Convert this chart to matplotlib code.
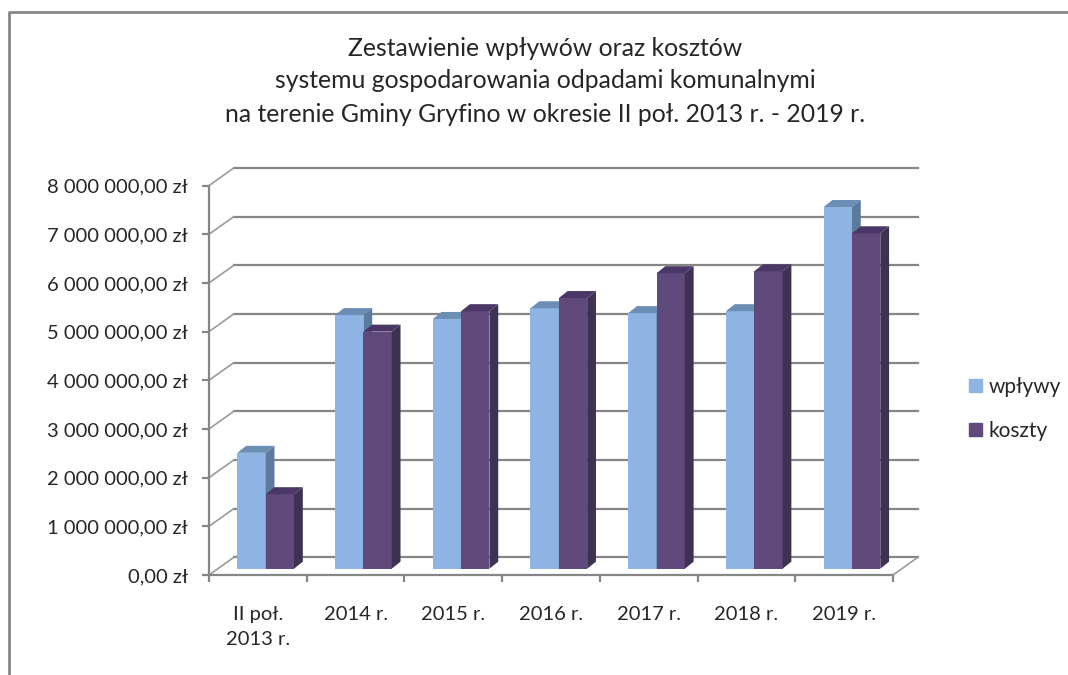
import matplotlib
matplotlib.use("Agg")
import matplotlib.pyplot as plt
from matplotlib.patches import Polygon, Patch
from matplotlib.lines import Line2D
import numpy as np

categories = ["II poł.\n2013 r.", "2014 r.", "2015 r.", "2016 r.", "2017 r.", "2018 r.", "2019 r."]
wplywy = [2380000, 5210000, 5130000, 5350000, 5250000, 5290000, 7430000]
koszty = [1530000, 4870000, 5290000, 5560000, 6070000, 6110000, 6890000]
y_ticks = [0, 1000000, 2000000, 3000000, 4000000, 5000000, 6000000, 7000000, 8000000]
y_labels = ["0,00 zł", "1 000 000,00 zł", "2 000 000,00 zł", "3 000 000,00 zł", "4 000 000,00 zł",
            "5 000 000,00 zł", "6 000 000,00 zł", "7 000 000,00 zł", "8 000 000,00 zł"]
title_lines = ["Zestawienie wpływów oraz kosztów",
               "systemu gospodarowania odpadami komunalnymi",
               "na terenie Gminy Gryfino w okresie II poł. 2013 r. - 2019 r."]

GRAY = "#868686"
TEXT = "#262626"
W, H = 1068, 675
plt.rcParams["font.family"] = ["Lato", "DejaVu Sans"]

fig = plt.figure(figsize=(W / 100, H / 100), dpi=100)
# axes box = front plane of the 3D chart
left, right, top, bottom = 209, 893, 185.6, 575
ax = fig.add_axes([left / W, 1 - bottom / H, (right - left) / W, (bottom - top) / H])
ax.set_xlim(0, 7)
ax.set_ylim(0, 8000000)
ax.patch.set_alpha(0)

# depth offsets, in data units
back_dx = 0.2526
back_dy = 361000
bar_w = 0.29
bar_x0 = 0.29
bar_dx = 0.09
bar_dy = 144000
base_dy = 130000

# walls: gridlines and their diagonals
for v in y_ticks:
    ax.plot([back_dx, 7 + back_dx], [v + back_dy, v + back_dy], color=GRAY, lw=1.6,
            clip_on=False, zorder=1)
    ax.plot([0, back_dx], [v, v + back_dy], color="#9a9a9a", lw=1.2, clip_on=False, zorder=1)
ax.plot([7, 7 + back_dx], [0, back_dy], color="#9a9a9a", lw=1.2, clip_on=False, zorder=1)


def draw_series(values, offset, front, top_c, side, z):
    x = np.arange(len(values)) + bar_x0 + offset
    ax.bar(x, values, bar_w, bottom=base_dy, align="edge", color=front, clip_on=False, zorder=z)
    for xi, v in zip(x, values):
        t = base_dy + v
        ax.add_patch(Polygon([(xi, t), (xi + bar_w, t), (xi + bar_w + bar_dx, t + bar_dy), (xi + bar_dx, t + bar_dy)],
                             closed=True, color=top_c, lw=0, clip_on=False, zorder=z))
        ax.add_patch(Polygon([(xi + bar_w, base_dy), (xi + bar_w + bar_dx, base_dy + bar_dy),
                              (xi + bar_w + bar_dx, t + bar_dy), (xi + bar_w, t)],
                             closed=True, color=side, lw=0, clip_on=False, zorder=z))


draw_series(wplywy, 0, "#8DB4E3", "#6C8EB5", "#5B7A9E", 3)
draw_series(koszty, bar_w, "#60497B", "#4B3766", "#3F3151", 4)

for s in ["top", "right"]:
    ax.spines[s].set_visible(False)
for s in ["left", "bottom"]:
    ax.spines[s].set_color(GRAY)
    ax.spines[s].set_linewidth(1.6)
    ax.spines[s].set_zorder(2)

ax.set_yticks(y_ticks)
ax.set_yticklabels(y_labels)
ax.set_xticks(np.arange(8))
ax.set_xticklabels([])
ax.tick_params(axis="both", color=GRAY, width=1.6, length=5)
ax.tick_params(axis="y", labelsize=14.5, labelcolor=TEXT, pad=10)

for i, c in enumerate(categories):
    ax.annotate(c, (i + 0.5, 0), xytext=(0, -22), textcoords="offset points", ha="center", va="top",
                fontsize=14.5, color=TEXT, linespacing=1.58, annotation_clip=False)

for line, y in zip(title_lines, [48, 81, 114]):
    fig.text(545 / W, 1 - y / H, line, ha="center", va="center", fontsize=17.8, color=TEXT)

handles = [Patch(color="#8DB4E3", label="wpływy"), Patch(color="#60497B", label="koszty")]
fig.legend(handles=handles, loc="center left", bbox_to_anchor=(950.3 / W, 1 - 409 / H), frameon=False,
           fontsize=15, labelcolor=TEXT, handlelength=0.62, handleheight=0.62, handletextpad=0.3,
           labelspacing=1.15)

# outer chart border, only top and left are in the frame
fig.add_artist(Line2D([9 / W, 9 / W, 1], [0, 1 - 12 / H, 1 - 12 / H], color=GRAY, lw=2,
                      transform=fig.transFigure))

fig.savefig("out.png", dpi=100)
